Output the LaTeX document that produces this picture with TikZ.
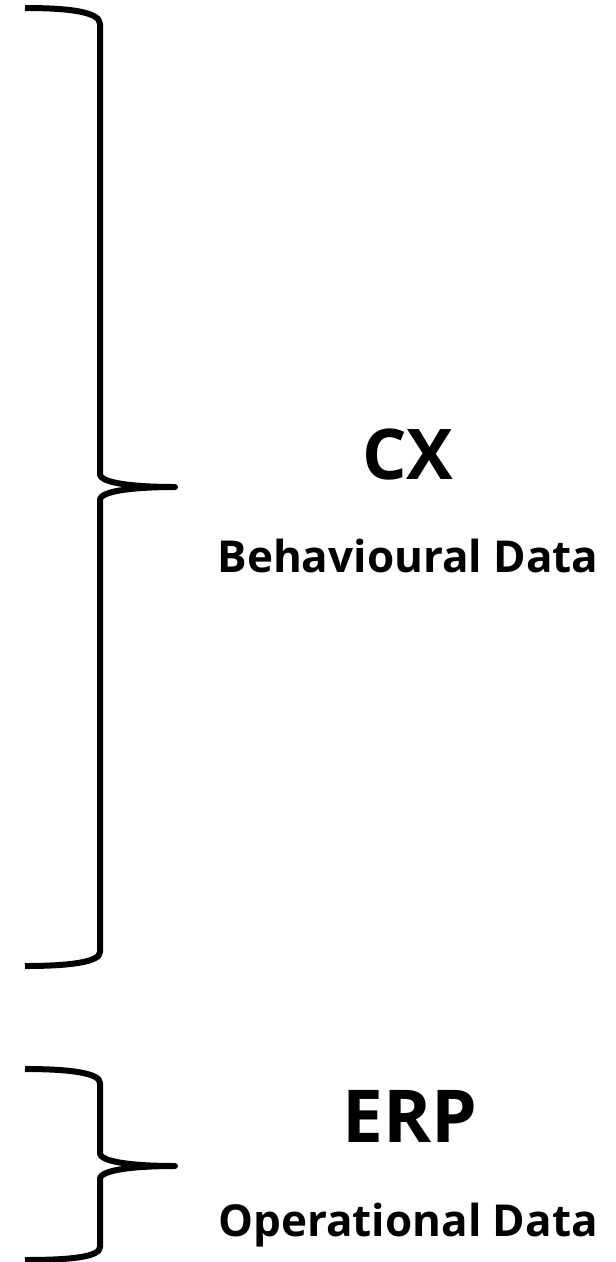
\documentclass[tikz,border=0pt]{standalone}
\usepackage{fontspec}
\setmainfont{Open Sans}
\begin{document}
\begin{tikzpicture}[x=1pt,y=-1pt,
  bracepath/.style={line width=6pt,line cap=butt,line join=round},
  title/.style={anchor=base,font=\fontsize{70}{80}\selectfont\bfseries,inner sep=0pt},
  sub/.style={anchor=base,font=\fontsize{44}{52}\selectfont\bfseries,inner sep=0pt}]
\useasboundingbox (0,0) rectangle (616,1262);
\coordinate (a1) at (25,8);
\coordinate (t1) at (175,487);
\coordinate (b1) at (25,966);
\draw[bracepath] (a1) .. controls (70,8) and (100,12) .. (100,24) -- (100,474)
  .. controls (100,484) and (140,487) .. (t1)
  .. controls (140,487) and (100,490) .. (100,500) -- (100,952)
  .. controls (100,962) and (70,966) .. (b1);
\coordinate (a2) at (25,1069);
\coordinate (t2) at (175,1166);
\coordinate (b2) at (25,1260);
\draw[bracepath] (a2) .. controls (70,1069) and (100,1073) .. (100,1083) -- (100,1153)
  .. controls (100,1163) and (140,1166) .. (t2)
  .. controls (140,1166) and (100,1169) .. (100,1179) -- (100,1247)
  .. controls (100,1257) and (70,1260) .. (b2);
\node[title] (cx) at (408,479) {CX};
\node[sub] (cxs) at (408,572) {Behavioural Data};
\node[title,font=\fontsize{73}{84}\selectfont\bfseries] (erp) at (410,1142) {ERP};
\node[sub] (erps) at (408,1236) {Operational Data};
\end{tikzpicture}
\end{document}
